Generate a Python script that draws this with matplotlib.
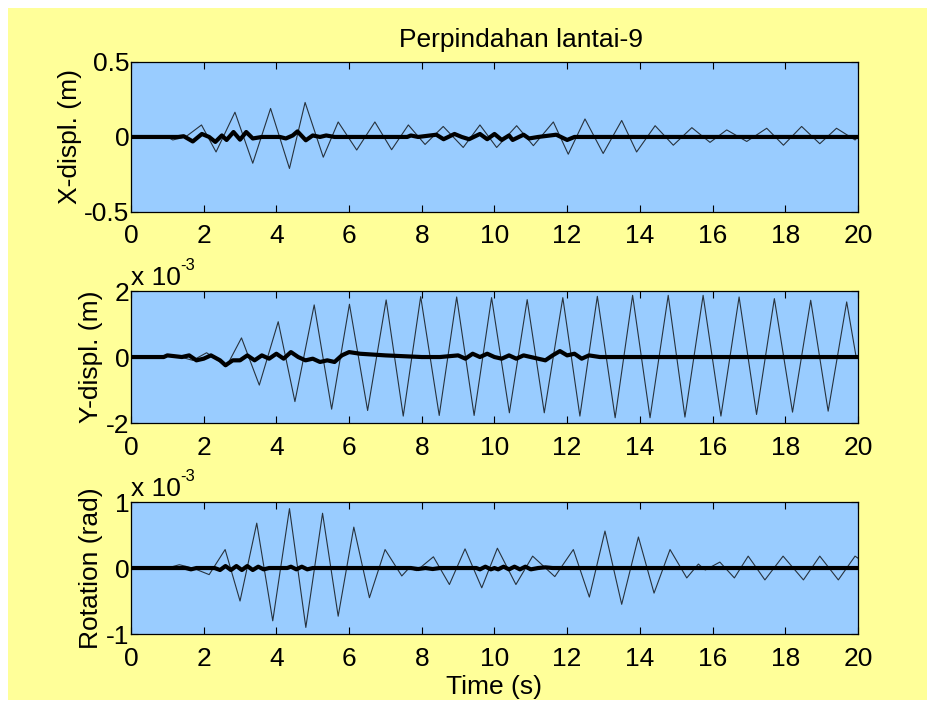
import matplotlib
matplotlib.use("Agg")
import matplotlib.pyplot as plt
from matplotlib.patches import Rectangle

plt.rcParams['font.family'] = ['Liberation Sans', 'DejaVu Sans']
plt.rcParams['font.size'] = 19

# data: (time, value) at the turning points of each trace
# X displacement in m
x_thin_t = [0, 1.0, 1.15, 1.5, 1.94, 2.34, 2.86, 3.35, 3.84, 4.36, 4.79, 5.29, 5.70, 6.21,
            6.71, 7.17, 7.63, 8.09, 8.59, 9.14, 9.60, 10.06, 10.61, 11.07, 11.62, 12.03,
            12.49, 12.99, 13.5, 13.91, 14.42, 14.92, 15.43, 15.93, 16.39, 16.94, 17.49,
            17.95, 18.45, 18.95, 19.41, 19.92, 20]
x_thin_v = [0, 0.0, -0.02, 0.0, 0.08, -0.10, 0.165, -0.175, 0.19, -0.21, 0.23, -0.135, 0.10,
            -0.087, 0.10, -0.085, 0.08, -0.05, 0.07, -0.07, 0.08, -0.07, 0.075, -0.058, 0.10,
            -0.115, 0.12, -0.11, 0.11, -0.10, 0.075, -0.055, 0.062, -0.036, 0.047, -0.03,
            0.058, -0.055, 0.07, -0.045, 0.058, -0.02, 0.0]
x_thick_t = [0, 1.3, 1.45, 1.7, 1.95, 2.15, 2.32, 2.5, 2.63, 2.82, 3.0, 3.17, 3.35, 3.6, 4.1,
             4.26, 4.45, 4.58, 4.81, 5.0, 5.2, 5.37, 5.6, 7.6, 7.7, 7.9, 8.4, 8.6, 8.9, 9.1,
             9.3, 9.6, 9.8, 10.0, 10.2, 10.4, 10.5, 10.8, 10.95, 11.2, 11.7, 12.0, 12.2, 20]
x_thick_v = [0, 0.0, 0.005, -0.03, 0.02, 0.0, -0.033, 0.01, -0.02, 0.033, -0.018, 0.033, -0.01,
             0.0, 0.0, -0.01, 0.01, 0.037, -0.022, 0.01, 0.0, 0.01, 0.0, 0.0, 0.01, 0.0, 0.015,
             -0.015, 0.02, 0.0, -0.015, 0.02, -0.015, 0.02, -0.02, 0.01, -0.02, 0.015, -0.01,
             0.0, 0.015, -0.02, 0.0, 0.0]

# Y displacement in units of 1e-3 m
y_thin_t = [0, 0.9, 1.2, 1.7, 2.08, 2.63, 3.04, 3.53, 4.05, 4.51, 5.04, 5.52, 6.01, 6.51, 7.02,
            7.49, 7.97, 8.48, 8.96, 9.44, 9.92, 10.41, 10.9, 11.37, 11.88, 12.35, 12.83, 13.32,
            13.8, 14.28, 14.78, 15.24, 15.74, 16.23, 16.73, 17.21, 17.7, 18.2, 18.7, 19.18,
            19.69, 19.95]
y_thin_v = [0, 0.0, 0.05, -0.1, 0.13, -0.28, 0.58, -0.85, 1.07, -1.35, 1.58, -1.58, 1.6, -1.62,
            1.73, -1.79, 1.83, -1.77, 1.82, -1.77, 1.8, -1.69, 1.74, -1.69, 1.8, -1.79, 1.84,
            -1.84, 1.87, -1.84, 1.87, -1.82, 1.87, -1.79, 1.82, -1.74, 1.77, -1.67, 1.72,
            -1.64, 1.67, 0.0]
y_thick_t = [0, 0.9, 1.0, 1.4, 1.6, 1.8, 2.0, 2.2, 2.45, 2.6, 2.8, 3.0, 3.2, 3.4, 3.6, 3.8, 4.0,
             4.2, 4.4, 4.6, 4.8, 5.0, 5.2, 5.4, 5.6, 5.8, 6.0, 6.3, 7.0, 8.0, 8.5, 9.0, 9.2, 9.4,
             9.6, 9.8, 10.0, 10.2, 10.4, 10.6, 10.8, 11.0, 11.4, 11.6, 11.8, 12.0, 12.2, 12.4,
             12.6, 12.9, 20]
y_thick_v = [0, 0.0, 0.05, 0.0, 0.05, -0.1, -0.05, 0.05, -0.1, -0.25, -0.1, -0.1, 0.05, -0.1,
             0.05, -0.05, 0.1, -0.05, 0.15, 0.0, -0.1, -0.05, -0.15, -0.1, -0.15, 0.05, 0.15,
             0.1, 0.05, 0.0, 0.0, 0.05, -0.05, 0.1, 0.0, 0.1, 0.0, -0.05, 0.05, -0.05, 0.05,
             0.0, -0.1, 0.05, 0.18, 0.05, 0.1, -0.05, 0.05, 0.0, 0.0]

# rotation in units of 1e-3 rad
r_thin_t = [0, 1.0, 1.33, 1.7, 2.15, 2.59, 3.0, 3.46, 3.9, 4.36, 4.81, 5.27, 5.70, 6.13, 6.56,
            6.99, 7.45, 7.65, 7.86, 8.32, 8.76, 9.19, 9.65, 10.08, 10.59, 11.05, 11.66, 12.17,
            12.61, 13.04, 13.5, 13.96, 14.39, 14.83, 15.29, 15.61, 15.8, 16.2, 16.6, 16.98,
            17.44, 17.94, 18.5, 18.95, 19.46, 19.92, 20]
r_thin_v = [0, 0.0, 0.05, 0.0, -0.1, 0.28, -0.5, 0.68, -0.8, 0.9, -0.9, 0.83, -0.73, 0.62,
            -0.45, 0.28, -0.12, 0.0, -0.04, 0.17, -0.25, 0.29, -0.3, 0.3, -0.25, 0.18, -0.13,
            0.28, -0.44, 0.56, -0.55, 0.47, -0.38, 0.28, -0.15, 0.06, -0.03, 0.09, -0.15, 0.18,
            -0.18, 0.18, -0.18, 0.18, -0.18, 0.18, 0.15]
r_thick_t = [0, 1.5, 1.65, 1.8, 2.3, 2.45, 2.6, 2.75, 2.9, 3.05, 3.2, 3.35, 3.5, 3.65, 3.8, 4.3,
             4.4, 4.55, 4.7, 4.85, 5.0, 7.7, 7.9, 8.1, 8.3, 8.5, 9.5, 9.6, 9.75, 9.9, 10.0, 10.1,
             10.25, 10.4, 10.55, 10.7, 10.85, 11.0, 11.2, 11.4, 11.6, 20]
r_thick_v = [0, 0, -0.02, 0, 0, -0.03, 0.03, -0.03, 0.03, -0.03, 0.03, -0.03, 0.02, -0.02, 0.0,
             0, 0.02, -0.02, 0.02, -0.02, 0.0, 0, -0.015, 0.0, -0.015, 0, 0, -0.02, 0.02,
             -0.02, 0, -0.02, 0.02, -0.02, 0.02, -0.02, 0.02, -0.02, 0.0, 0.01, 0.0, 0]

panels = [
    (x_thin_t, x_thin_v, x_thick_t, x_thick_v, 'X-displ. (m)', [-0.5, 0, 0.5], ['-0.5', '0', '0.5'], False),
    (y_thin_t, y_thin_v, y_thick_t, y_thick_v, 'Y-displ. (m)', [-2, 0, 2], ['-2', '0', '2'], True),
    (r_thin_t, r_thin_v, r_thick_t, r_thick_v, 'Rotation (rad)', [-1, 0, 1], ['-1', '0', '1'], True),
]
# axes boxes in figure fractions (left, bottom, width, height)
boxes = [(0.1401, 0.6989, 0.7775, 0.2131),
         (0.1401, 0.3991, 0.7775, 0.1875),
         (0.1401, 0.0994, 0.7775, 0.1875)]

fig = plt.figure(figsize=(9.35, 7.04), dpi=100, facecolor='white')
fig.patches.append(Rectangle((0.0086, 0.0057), 0.983, 0.983, transform=fig.transFigure,
                             facecolor='#FFFF99', edgecolor='none', zorder=-10))

for (tt, tv, kt, kv, lab, yt, ytl, scaled), box in zip(panels, boxes):
    ax = fig.add_axes(box)
    ax.set_facecolor('#99CCFF')
    ax.plot(tt, tv, color='#27323d', linewidth=0.8)
    ax.plot(kt, kv, color='black', linewidth=3.0)
    ax.set_xlim(0, 20)
    ax.set_ylim(yt[0], yt[-1])
    ax.set_xticks(range(0, 21, 2))
    ax.set_yticks(yt)
    ax.set_yticklabels(ytl)
    ax.tick_params(direction='in', length=5, width=0.8, top=True, right=True, pad=1)
    ax.tick_params(axis='x', pad=9)
    ax.set_ylabel(lab, labelpad=2)
    for s in ax.spines.values():
        s.set_linewidth(0.9)
    if scaled:
        # exponent label above the axes, MATLAB style
        ax.text(0.0, 1.01, 'x 10', transform=ax.transAxes, ha='left', va='bottom')
        ax.text(0.068, 1.135, '-3', transform=ax.transAxes, ha='left', va='bottom', fontsize=12)

ax.set_xlabel('Time (s)', labelpad=3)
fig.text(521 / 935, 1 - 40 / 704, 'Perpindahan lantai-9', ha='center', va='center')

fig.savefig('out.png', dpi=100, facecolor='white')
